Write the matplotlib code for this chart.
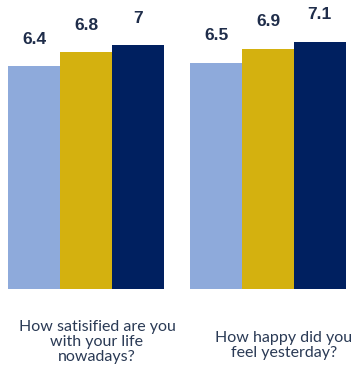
import numpy as np
import matplotlib
matplotlib.use('Agg')
import matplotlib.pyplot as plt

questions = ["How satisified are you\nwith your life\nnowadays?",
             "How happy did you\nfeel yesterday?"]
series_a = [6.4, 6.5]
series_b = [6.8, 6.9]
series_c = [7.0, 7.1]
value_labels = [["6.4", "6.5"], ["6.8", "6.9"], ["7", "7.1"]]
colors = ['#8eaadb', '#d4b10f', '#002060']

fig = plt.figure(figsize=(3.57, 3.71), dpi=100)
ax = fig.add_axes([0, 0.221, 1, 0.779])

x = np.arange(len(questions))
w = 0.285
for i, vals in enumerate([series_a, series_b, series_c]):
    bars = ax.bar(x + (i - 1) * w, vals, width=w, color=colors[i])
    for b, lab in zip(bars, value_labels[i]):
        ax.annotate(lab, (b.get_x() + b.get_width() / 2, b.get_height()),
                    xytext=(0, 14), textcoords='offset points',
                    ha='center', va='bottom', fontsize=12.5, fontweight='bold',
                    color='#1f2d4a', family='Liberation Sans')

ax.set_xlim(-0.4725, 1.489)
ax.set_ylim(0, 8.3)
ax.axis('off')

fig.text(97 / 357, 1 - 320 / 371, questions[0], ha='center', va='top',
         fontsize=11.5, color='#2a3a55', family='Lato', linespacing=1.08)
fig.text(284 / 357, 1 - 331 / 371, questions[1], ha='center', va='top',
         fontsize=11.5, color='#2a3a55', family='Lato', linespacing=1.08)

fig.savefig('out.png', dpi=100, facecolor='white')
